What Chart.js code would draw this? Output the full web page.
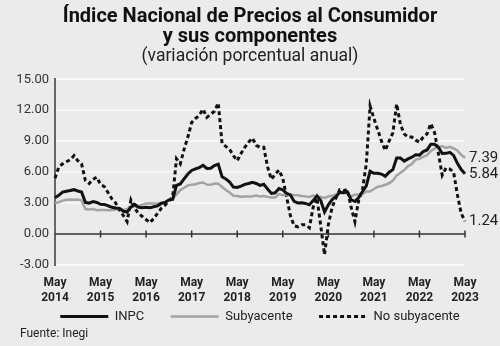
<!DOCTYPE html>
<html lang="es">
<head>
<meta charset="utf-8">
<title>INPC y sus componentes</title>
<script src="https://cdn.jsdelivr.net/npm/chart.js@4.4.0/dist/chart.umd.min.js"></script>
<style>
    body { margin: 0; background: #ebebeb; }
    #wrap { position: relative; width: 500px; height: 346px; background: #ebebeb; }
    #source { position: absolute; left: 20px; top: 326px; font: 12px "Roboto", sans-serif; color: #222; }
</style>
</head>
<body>
<div id="wrap">
    <canvas id="inflationChart" width="500" height="346"></canvas>
    <div id="source">Fuente: Inegi</div>
</div>
<script>
// Monthly data, May 2014 - May 2023 (annual % change)
const months = ['Ene', 'Feb', 'Mar', 'Abr', 'May', 'Jun', 'Jul', 'Ago', 'Sep', 'Oct', 'Nov', 'Dic'];
const startYear = 2014;
const startMonth = 4; // May
const yTicks = [-3, 0, 3, 6, 9, 12, 15];

const inpc = [
    3.51, 3.75, 4.07, 4.15, 4.22, 4.30, 4.17, 4.08,
    3.07, 3.00, 3.14, 3.06, 2.88, 2.87, 2.74, 2.59, 2.52, 2.48, 2.21, 2.13,
    2.61, 2.87, 2.60, 2.54, 2.60, 2.54, 2.65, 2.73, 2.97, 3.06, 3.31, 3.36,
    4.72, 4.86, 5.35, 5.82, 6.16, 6.31, 6.44, 6.66, 6.35, 6.37, 6.63, 6.77,
    5.55, 5.34, 5.04, 4.55, 4.51, 4.65, 4.81, 4.90, 5.02, 4.90, 4.72, 4.83,
    4.37, 3.94, 4.00, 4.41, 4.28, 3.95, 3.78, 3.16, 3.00, 3.02, 2.97, 2.83,
    3.24, 3.70, 3.25, 2.15, 2.84, 3.33, 3.62, 4.05, 4.01, 4.09, 3.33, 3.15,
    3.54, 4.12, 4.67, 6.08, 5.89, 5.88, 5.81, 5.59, 6.00, 6.24, 7.37, 7.36,
    7.07, 7.28, 7.45, 7.68, 7.65, 7.99, 8.15, 8.70, 8.70, 8.41, 7.80, 7.82,
    7.91, 7.62, 6.85, 6.25, 5.84
];

const subyacente = [
    3.00, 3.08, 3.24, 3.33, 3.35, 3.32, 3.34, 3.24,
    2.42, 2.39, 2.42, 2.31, 2.33, 2.32, 2.31, 2.33, 2.37, 2.47, 2.34, 2.41,
    2.64, 2.66, 2.71, 2.85, 2.95, 2.97, 2.97, 2.94, 3.07, 3.10, 3.29, 3.44,
    3.84, 4.26, 4.48, 4.72, 4.78, 4.83, 4.94, 5.00, 4.80, 4.77, 4.90, 4.87,
    4.56, 4.27, 4.02, 3.71, 3.69, 3.62, 3.63, 3.63, 3.67, 3.73, 3.63, 3.68,
    3.60, 3.54, 3.55, 3.87, 3.77, 3.85, 3.82, 3.78, 3.75, 3.68, 3.65, 3.59,
    3.73, 3.66, 3.60, 3.50, 3.64, 3.71, 3.85, 3.97, 3.99, 3.98, 3.66, 3.80,
    3.84, 3.87, 4.12, 4.13, 4.37, 4.58, 4.66, 4.78, 4.92, 5.19, 5.67, 5.94,
    6.21, 6.59, 6.78, 7.22, 7.28, 7.49, 7.65, 8.05, 8.28, 8.42, 8.51, 8.35,
    8.45, 8.29, 8.09, 7.67, 7.39
];

const noSubyacente = [
    5.40, 6.50, 6.80, 7.00, 7.20, 7.60, 7.10, 6.80,
    5.20, 4.90, 5.30, 5.50, 4.80, 4.60, 4.00, 3.40, 3.00, 2.30, 1.80, 1.20,
    3.30, 2.50, 2.00, 1.70, 1.40, 1.10, 1.50, 2.00, 2.50, 2.80, 3.20, 3.60,
    7.30, 6.80, 8.20, 9.40, 10.80, 11.20, 11.50, 12.10, 11.30, 11.60, 11.90, 12.70,
    8.80, 8.50, 8.20, 7.60, 7.10, 7.80, 8.40, 8.90, 9.30, 8.60, 8.40, 8.40,
    6.50, 5.30, 5.80, 6.20, 5.40, 3.60, 1.80, 0.80, 0.70, 0.90, 0.90, 0.60,
    2.60, 3.50, 0.80, -2.00, 0.90, 2.60, 3.50, 4.30, 4.20, 4.30, 2.60, 1.20,
    3.30, 4.30, 6.80, 12.40, 11.20, 10.10, 9.00, 8.10, 9.00, 9.80, 12.60, 10.60,
    9.70, 9.40, 9.40, 9.10, 8.90, 9.40, 9.70, 10.70, 9.80, 7.80, 5.70, 6.40,
    6.30, 6.00, 3.80, 2.00, 1.24
];

// Build month labels (only May gets shown on the axis)
const labels = inpc.map((_, i) => {
    const m = (startMonth + i) % 12;
    const y = startYear + Math.floor((startMonth + i) / 12);
    return [months[m], String(y)];
});

const isMay = (i) => (startMonth + i) % 12 === 4;

// Zero line with tick marks at every May
const zeroLinePlugin = {
    id: 'zeroLine',
    beforeDatasetsDraw(chart) {
        const { ctx, chartArea, scales } = chart;
        const y0 = scales.y.getPixelForValue(0);
        ctx.save();
        ctx.strokeStyle = '#333';
        ctx.lineWidth = 1.5;
        ctx.beginPath();
        ctx.moveTo(chartArea.left, y0);
        ctx.lineTo(chartArea.right, y0);
        labels.forEach((_, i) => {
            if (!isMay(i) || i === 0) return;
            const x = scales.x.getPixelForValue(i);
            ctx.moveTo(x, y0 - 3.5);
            ctx.lineTo(x, y0 + 3.5);
        });
        ctx.stroke();
        ctx.restore();
    }
};

// Last value of each series written at the right end
const endLabelPlugin = {
    id: 'endLabels',
    afterDatasetsDraw(chart) {
        const { ctx, chartArea, scales } = chart;
        ctx.save();
        ctx.font = '15px "Roboto", sans-serif';
        ctx.fillStyle = '#222';
        ctx.textBaseline = 'middle';
        ctx.textAlign = 'left';
        chart.data.datasets.forEach(ds => {
            const last = ds.data[ds.data.length - 1];
            ctx.fillText(last.toFixed(2), chartArea.right + 4, scales.y.getPixelForValue(last));
        });
        ctx.restore();
    }
};

// Pull the legend row a little closer to the axis labels
const legendNudgePlugin = {
    id: 'legendNudge',
    afterLayout(chart) {
        if (chart.legend) {
            chart.legend.top -= 5;
            chart.legend.bottom -= 5;
        }
    }
};

const ctx = document.getElementById('inflationChart');

new Chart(ctx, {
    type: 'line',
    data: {
        labels: labels,
        datasets: [
            {
                label: 'INPC',
                data: inpc,
                borderColor: '#111',
                borderWidth: 3,
                pointRadius: 0,
                tension: 0
            },
            {
                label: 'Subyacente',
                data: subyacente,
                borderColor: '#a3a3a3',
                borderWidth: 2.5,
                pointRadius: 0,
                tension: 0
            },
            {
                label: 'No subyacente',
                data: noSubyacente,
                borderColor: '#111',
                borderWidth: 3,
                borderDash: [4, 3],
                pointRadius: 0,
                tension: 0
            }
        ]
    },
    options: {
        responsive: false,
        animation: false,
        layout: {
            padding: { top: 0, left: 0, right: 0, bottom: 8 }
        },
        plugins: {
            title: {
                display: true,
                text: ['Índice Nacional de Precios al Consumidor', 'y sus componentes'],
                color: '#111',
                font: { family: 'Roboto', size: 20, weight: 'bold', lineHeight: 1.0 },
                padding: { top: 7, bottom: 0 }
            },
            subtitle: {
                display: true,
                text: '(variación porcentual anual)',
                color: '#222',
                font: { family: 'Roboto', size: 17.5, weight: 'normal', lineHeight: 1.1 },
                padding: { top: 0, bottom: 13 }
            },
            legend: {
                position: 'bottom',
                fullSize: false,
                labels: {
                    color: '#222',
                    font: { family: 'Roboto', size: 13, lineHeight: 0.8 },
                    usePointStyle: true,
                    pointStyle: 'line',
                    pointStyleWidth: 48,
                    boxHeight: 3,
                    padding: 0,
                    generateLabels(chart) {
                        const last = chart.data.datasets.length - 1;
                        return chart.data.datasets.map((ds, i) => ({
                            text: i < last ? ds.label + '\u2002\u2002\u2002\u2002' : ds.label,
                            strokeStyle: ds.borderColor,
                            fillStyle: ds.borderColor,
                            lineWidth: ds.borderWidth,
                            lineDash: ds.borderDash || [],
                            pointStyle: 'line',
                            fontColor: '#222',
                            datasetIndex: i
                        }));
                    }
                }
            },
            tooltip: { enabled: false }
        },
        scales: {
            x: {
                grid: { display: false, drawTicks: false },
                border: { display: false },
                ticks: {
                    autoSkip: false,
                    maxRotation: 0,
                    color: '#222',
                    font: { family: 'Roboto', size: 12, weight: 'bold', lineHeight: 1.25 },
                    padding: 10,
                    callback: function (value, index) {
                        return isMay(index) ? labels[index] : '';
                    }
                }
            },
            y: {
                min: -3,
                max: 15,
                afterBuildTicks(scale) {
                    scale.ticks = yTicks.map(v => ({ value: v }));
                },
                afterFit(scale) {
                    scale.width = 55;
                },
                border: { display: true, color: '#666', width: 2 },
                grid: {
                    drawTicks: false,
                    lineWidth: 2,
                    color: (c) => c.tick && c.tick.value === 0 ? 'rgba(0,0,0,0)' : '#f6f6f6'
                },
                ticks: {
                    autoSkip: false,
                    color: '#333',
                    font: { family: 'Roboto', size: 13 },
                    padding: 6,
                    callback: (v) => v.toFixed(2)
                }
            },
            // empty right axis that keeps room for the end labels
            yRight: {
                position: 'right',
                min: -3,
                max: 15,
                grid: { display: false, drawTicks: false },
                border: { display: false },
                ticks: { display: false },
                afterFit(scale) {
                    scale.width = 35;
                }
            }
        }
    },
    plugins: [zeroLinePlugin, endLabelPlugin, legendNudgePlugin]
});
</script>
</body>
</html>
